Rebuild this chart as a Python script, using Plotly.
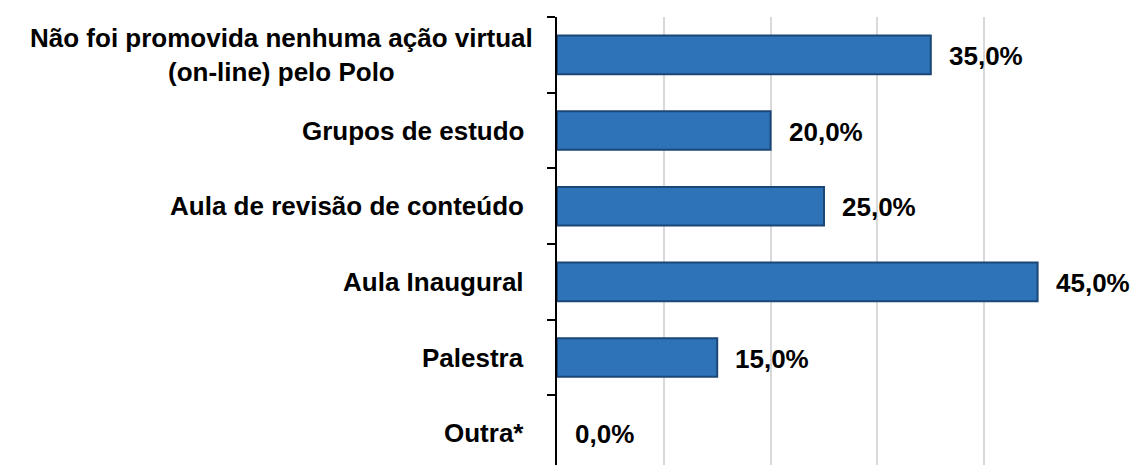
import plotly.graph_objects as go

categories = [
    "Não foi promovida nenhuma ação virtual<br>(on-line) pelo Polo",
    "Grupos de estudo",
    "Aula de revisão de conteúdo",
    "Aula Inaugural",
    "Palestra",
    "Outra*",
]
values = [35.0, 20.0, 25.0, 45.0, 15.0, 0.0]
x_ticks = [0, 10, 20, 30, 40, 50]

FONT = "Arial, Liberation Sans, Helvetica, sans-serif"

fig = go.Figure()
fig.add_trace(go.Bar(
    x=values,
    y=categories,
    orientation="h",
    marker=dict(color="#2e72b8",
                line=dict(color="#1b4777", width=[2 if v > 0 else 0 for v in values])),
    width=0.51,
    hoverinfo="skip",
))

annotations = []
for c, v in zip(categories, values):
    annotations.append(dict(
        x=v, y=c, xref="x", yref="y",
        text=f"{v:.1f}".replace(".", ",") + "%",
        showarrow=False, xanchor="left", yanchor="middle", xshift=16, yshift=-1,
        font=dict(family=FONT, size=26, color="#000000", weight="bold"),
    ))
    annotations.append(dict(
        x=0, y=c, xref="paper", yref="y",
        text=c, align="center",
        showarrow=False, xanchor="right", yanchor="middle",
        xshift=-22 if "<br>" in c else -31,
        font=dict(family=FONT, size=26, color="#000000", weight="bold"),
    ))

fig.update_layout(
    width=1132, height=465,
    margin=dict(l=557, r=41, t=17, b=0),
    paper_bgcolor="white", plot_bgcolor="white",
    showlegend=False,
    annotations=annotations,
    xaxis=dict(
        range=[0, 50], tickvals=x_ticks, showticklabels=False,
        showgrid=True, gridcolor="#d9d9d9", gridwidth=1.5,
        zeroline=False, showline=False, ticks="",
    ),
    yaxis=dict(
        type="category", categoryorder="array", categoryarray=categories,
        range=[5.42, -0.5],
        showticklabels=False, showgrid=False, zeroline=False,
        showline=True, linecolor="#000000", linewidth=1.5,
        ticks="outside", tickson="boundaries", ticklen=8,
        tickcolor="#000000", tickwidth=1.5,
    ),
)

fig.write_html("out.html", config={"displayModeBar": False},
               post_script="document.body.style.margin='0';")
